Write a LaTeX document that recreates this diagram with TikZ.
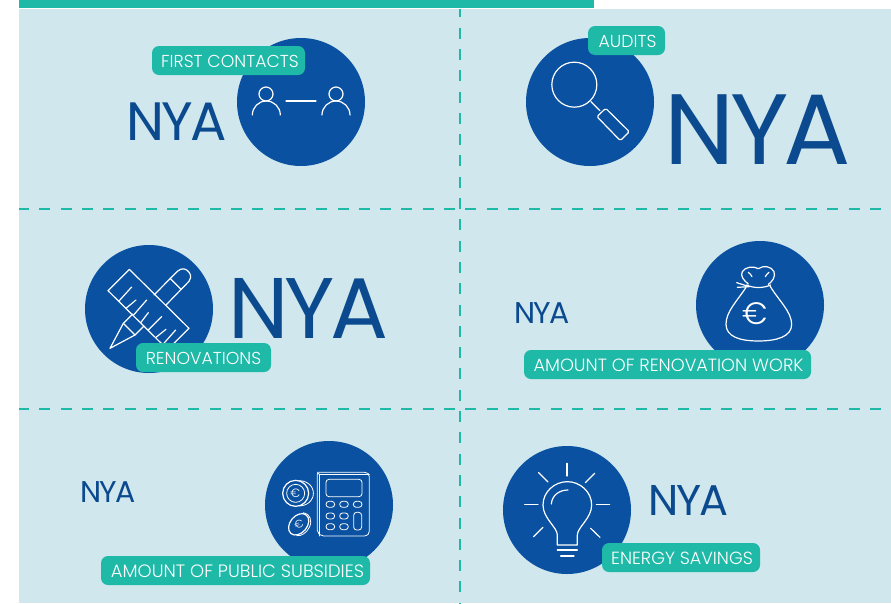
\documentclass[tikz,border=0pt]{standalone}
\usepackage{fontspec}
\setmainfont{Poppins Light}
\newfontfamily\nyafont{Poppins}
\definecolor{panel}{HTML}{CFE7ED}
\definecolor{teal}{HTML}{1FB9A8}
\definecolor{deep}{HTML}{0A51A1}
\definecolor{nyablue}{HTML}{0B4A8E}
\tikzset{
  disc/.style={circle,fill=deep,minimum size=128pt,inner sep=0pt},
  badge/.style={fill=teal,rounded corners=7pt,text=white,inner sep=0pt,minimum height=29pt,anchor=center},
  badgetext/.style={text=white,font=\fontsize{#1}{18}\selectfont,inner sep=0pt,text depth=0pt,text height=12pt,anchor=base},
  nya/.style={text=nyablue,inner sep=0pt,anchor=base west,text depth=0pt,text height=10pt},
  ico/.style={white,line width=1.2pt,line cap=round,line join=round},
  thin ico/.style={white,line width=.8pt,line cap=round,line join=round},
  divider/.style={teal,line width=2.4pt,dash pattern=on 11pt off 10.3pt}
}
\newcommand{\nyatext}[2]{\nyafont\fontsize{#1}{#1}\selectfont\addfontfeature{LetterSpace=#2}NYA}
\begin{document}
\begin{tikzpicture}[x=1pt,y=-1pt]
\useasboundingbox (0,0) rectangle (891,603);
\fill[panel] (19,9) rectangle (891,603);
\fill[teal] (19,0) rectangle (594,8);
\draw[divider,dash phase=2.7pt] (460,9) coordinate (vt) -- (460,603) coordinate (vb);
\draw[divider,dash phase=1pt] (19,209) coordinate (h1l) -- (891,209) coordinate (h1r);
\draw[divider,dash phase=1pt] (19,409) coordinate (h2l) -- (891,409) coordinate (h2r);

\node[disc] (d1) at (301,102) {};
\node[disc] (d2) at (590,102) {};
\node[disc] (d3) at (149,309) {};
\node[disc] (d4) at (760,305) {};
\node[disc] (d5) at (329,505) {};
\node[disc] (d6) at (567,510) {};

% people
\begin{scope}[shift={(220,30)},x=.3333pt,y=-.3333pt]
 \draw[ico] (138,192) circle (7pt);
 \draw[ico] (97,255) arc (180:0:14pt);
 \draw[ico] (348,192) circle (7pt);
 \draw[ico] (306,255) arc (180:0:14pt);
 \draw[ico] (198,213) -- (288,213);
\end{scope}
% magnifier
\begin{scope}[shift={(515,20)},x=.3333pt,y=-.3333pt]
 \draw[ico] (178,194) circle (22.5pt);
 \draw[ico] (228,245) -- (255,272);
 \draw[ico,rounded corners=1.5pt] (272,265) -- (343,335) -- (316,362) -- (246,290) -- cycle;
\end{scope}
% ruler and pencil
\begin{scope}[shift={(80,240)},x=.3333pt,y=-.3333pt]
 \draw[ico] (148,88) -- (327,265) -- (263,329) -- (84,152) -- cycle;
 \foreach \a/\b/\c/\d in {117/183/155/141,138/205/168/180,160/226/200/180,182/248/205/218,205/270/245/230,228/292/258/268,250/312/287/270}
   \draw[ico] (\a,\b) -- (\c,\d);
 \draw[ico] (222,165) -- (292,94) .. controls (305,82) and (320,85) .. (328,98) .. controls (335,108) and (332,118) .. (327,124) -- (258,195);
 \draw[ico] (270,115) -- (303,148);
 \draw[ico] (158,222) -- (130,250) -- (90,325) -- (165,285) -- (192,258);
 \draw[ico] (130,250) -- (165,285);
\end{scope}
% money bag
\begin{scope}[shift={(690,235)},x=.3333pt,y=-.3333pt]
 \draw[ico] (175,147) .. controls (160,135) and (150,122) .. (157,110) .. controls (165,96) and (190,92) .. (205,101) .. controls (220,90) and (245,94) .. (252,110) .. controls (258,125) and (245,142) .. (235,148);
 \draw[ico] (175,112) .. controls (180,116) and (184,120) .. (186,125);
 \draw[ico] (237,112) .. controls (232,116) and (228,120) .. (226,125);
 \draw[ico] (140,143) -- (178,155) -- (142,157);
 \draw[ico] (170,150) .. controls (190,160) and (220,160) .. (242,150);
 \draw[ico] (168,157) .. controls (140,200) and (108,230) .. (108,268) .. controls (108,305) and (150,318) .. (205,318) .. controls (260,318) and (305,305) .. (305,268) .. controls (305,230) and (265,195) .. (240,153);
 \node[text=white,inner sep=0pt,font=\fontsize{31}{31}\selectfont] (eur1) at (197,235) {€};
\end{scope}
% calculator
\begin{scope}[shift={(260,435)},x=.3333pt,y=-.3333pt]
 \draw[thin ico,rounded corners=2pt] (178,118) -- (172,112) -- (172,292) -- (185,303) -- (320,303) -- (328,295) -- (328,118) -- (320,112) -- (172,112);
 \draw[thin ico,rounded corners=2pt] (178,118) -- (328,118);
 \draw[thin ico,rounded corners=2pt] (178,118) -- (178,303);
 \draw[thin ico,rounded corners=3pt] (198,133) rectangle (306,185);
 \foreach \px/\py in {211/208,252/208,293/208,211/243,252/243,211/275,252/275}
   \draw[thin ico,rounded corners=3pt] (\px-13,\py-9) rectangle (\px+13,\py+9);
 \draw[thin ico,rounded corners=3pt] (281,232) rectangle (305,285);
 % coins
 \draw[ico] (107,175) circle (13pt);
 \draw[thin ico] (107,175) circle (9pt);
 \draw[thin ico] (118,137) .. controls (148,138) and (165,160) .. (159,185) .. controls (153,203) and (138,212) .. (118,213);
 \node[text=white,inner sep=0pt,font=\fontsize{12}{12}\selectfont] (eur2) at (106,175) {€};
 \draw[ico,rotate around={-40:(116,268)}] (116,268) ellipse (8.5pt and 12pt);
 \draw[thin ico] (130,233) .. controls (150,235) and (158,258) .. (148,277) .. controls (140,293) and (125,304) .. (110,302);
 \node[text=white,inner sep=0pt,rotate=20,font=\fontsize{11}{11}\selectfont] (eur3) at (116,268) {€};
\end{scope}
% bulb
\begin{scope}[shift={(498,440)},x=.3333pt,y=-.3333pt]
 \foreach \a/\b/\c/\d in {207/70/207/108,122/98/150/126,290/100/262/128,80/193/120/193,295/193/335/193,135/262/107/290,278/265/306/292}
   \draw[ico] (\a,\b) -- (\c,\d);
 \draw[ico] (178,315) -- (178,285) .. controls (178,262) and (135,235) .. (135,195) .. controls (135,155) and (170,125) .. (208,125) .. controls (246,125) and (281,155) .. (281,195) .. controls (281,235) and (238,262) .. (238,285) -- (238,315) -- cycle;
 \draw[ico] (178,330) -- (238,330);
 \draw[ico] (188,348) -- (228,348);
 \draw[ico] (160,192) .. controls (162,165) and (185,150) .. (210,150);
\end{scope}

\node[badge,minimum width=153pt] (b1) at (228.5,60.5) {};
\node[badgetext=17.3] (t1) at (230,67) {FIRST CONTACTS};
\node[badge,minimum width=77pt] (b2) at (626.5,40.5) {};
\node[badgetext=17.3] (t2) at (627.5,47) {AUDITS};
\node[badge,minimum width=135pt] (b3) at (203.5,357.5) {};
\node[badgetext=17.3] (t3) at (203.5,364) {RENOVATIONS};
\node[badge,minimum width=287pt] (b4) at (667.5,364.5) {};
\node[badgetext=17.7] (t4) at (668.5,371) {AMOUNT OF RENOVATION WORK};
\node[badge,minimum width=269pt] (b5) at (235.5,570.5) {};
\node[badgetext=17.9] (t5) at (237.5,577) {AMOUNT OF PUBLIC SUBSIDIES};
\node[badge,minimum width=158pt] (b6) at (681,557.5) {};
\node[badgetext=17.6] (t6) at (682,564) {ENERGY SAVINGS};

\node[nya] (n1) at (126,140) {\nyatext{54}{-5}};
\node[nya] (n2) at (664.5,164) {\nyatext{100}{-5}};
\node[nya] (n3) at (228,338) {\nyatext{86}{-5}};
\node[nya] (n4) at (514,323) {\nyatext{30}{-5}};
\node[nya] (n5) at (80,502) {\nyatext{30}{-5}};
\node[nya] (n6) at (648,515) {\nyatext{43}{-5}};
\end{tikzpicture}
\end{document}
